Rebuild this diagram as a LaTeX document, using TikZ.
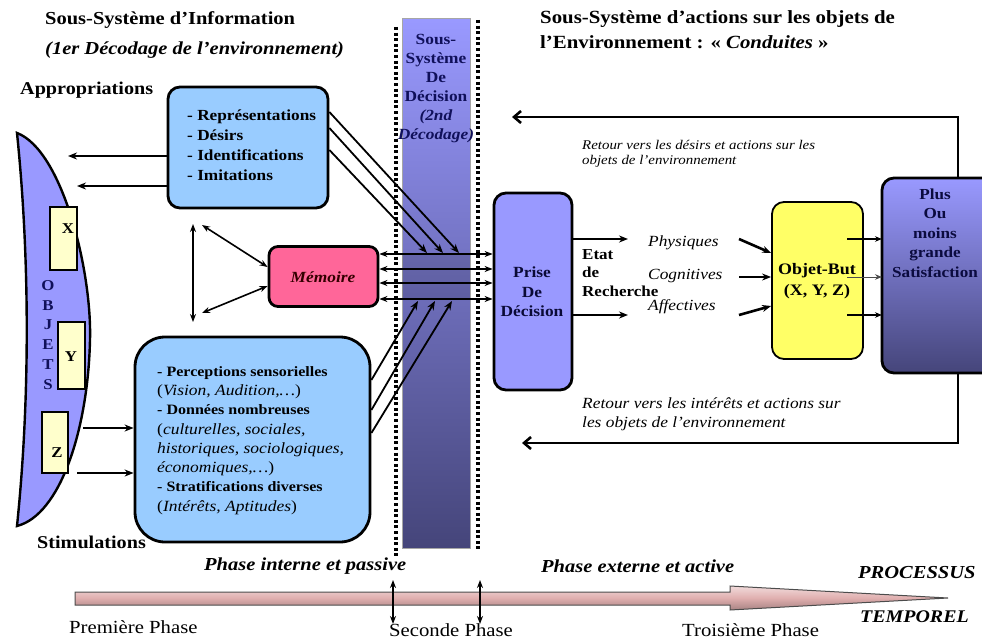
\documentclass[tikz,border=0pt]{standalone}
\usepackage{fontspec}
\setmainfont{Liberation Serif}[FakeStretch=1.12]
\usetikzlibrary{arrows.meta}
\definecolor{lblue}{HTML}{99CCFF}
\definecolor{lav}{HTML}{9999FF}
\definecolor{lavdark}{HTML}{45457A}
\definecolor{pinkm}{HTML}{FF6699}
\definecolor{yell}{HTML}{FFFF66}
\definecolor{pyell}{HTML}{FFFFCC}
\definecolor{navy}{HTML}{10105A}
\definecolor{arrpink}{HTML}{E0AFAF}
\tikzset{
  bx/.style={draw=black, line width=2.8pt, rounded corners=12pt},
  arr/.style={-{Stealth[length=9pt,width=7pt]}, line width=2pt},
  arrthin/.style={-{Stealth[length=7pt,width=5.5pt]}, line width=1.1pt},
  darr/.style={{Stealth[length=8pt,width=6pt]}-{Stealth[length=8pt,width=6pt]}, line width=1.6pt},
  fb/.style={-{Straight Barb[length=7pt,width=12pt]}, line width=2.6pt},
  dots/.style={line width=3.6pt, dash pattern=on 3pt off 2.6pt},
  ttl/.style={font=\bfseries\fontsize{18.3}{22}\selectfont, anchor=west, inner sep=0pt},
  lbl/.style={font=\bfseries\fontsize{15}{19}\selectfont, inner sep=0pt},
  itl/.style={font=\itshape\fontsize{15.5}{18}\selectfont, inner sep=0pt},
  btm/.style={font=\fontsize{18.5}{22}\selectfont, anchor=west, inner sep=0pt},
  phs/.style={font=\bfseries\itshape\fontsize{18.3}{22}\selectfont, anchor=west, inner sep=0pt},
}
\newcommand{\bb}[1]{{\upshape\bfseries\fontsize{14.3}{19.3}\selectfont #1}}
\begin{document}
\begin{tikzpicture}[x=1pt,y=-1pt]
\useasboundingbox (0,0) rectangle (982,642);

% titles
\node[ttl] (t1) at (45,20) {Sous-Système d'Information};
\node[ttl, font=\bfseries\itshape\fontsize{18.3}{22}\selectfont] (t2) at (45,50) {(\textit{1er Décodage de l'environnement})};
\node[ttl, font=\bfseries\fontsize{18.6}{22}\selectfont] (t3) at (540,19) {Sous-Système d'actions sur les objets de};
\node[ttl, font=\bfseries\fontsize{18.6}{22}\selectfont] (t4) at (540,42) {l'Environnement : « \textit{Conduites} »};
\node[ttl, font=\bfseries\fontsize{18}{20}\selectfont] (appr) at (20,90) {Appropriations};
\node[ttl, font=\bfseries\fontsize{18}{20}\selectfont] (stim) at (37,542) {Stimulations};

% lens OBJETS
\filldraw[fill=lav, draw=black, line width=2.4pt] (17,133) .. controls (62,150) and (92,270) .. (90,340) .. controls (88,430) and (60,515) .. (17,526) .. controls (30,400) and (30,260) .. (17,133) -- cycle;
\node[draw=black, line width=2.6pt, fill=pyell, minimum width=27pt, minimum height=63pt, inner sep=0pt] (xb) at (63.5,238.5) {};
\node[draw=black, line width=2.6pt, fill=pyell, minimum width=27pt, minimum height=67pt, inner sep=0pt] (yb) at (71.5,355.5) {};
\node[draw=black, line width=2.6pt, fill=pyell, minimum width=26pt, minimum height=61pt, inner sep=0pt] (zb) at (55,442.5) {};
\node[lbl, font=\bfseries\fontsize{15}{17}\selectfont] (xl) at (68,229) {X};
\node[lbl, font=\bfseries\fontsize{15}{17}\selectfont] (yl) at (71,357) {Y};
\node[lbl, font=\bfseries\fontsize{15}{17}\selectfont] (zl) at (57,453) {Z};
\node[lbl, text=navy, font=\bfseries\fontsize{15}{19.8}\selectfont, align=center] (obj) at (48,335) {O\\B\\J\\E\\T\\S};
\coordinate (la1) at (68,156);
\coordinate (la2) at (77,186);
\coordinate (lz1) at (83,428);
\coordinate (lz2) at (77,473);

% top-left box
\node[bx, fill=lblue, minimum width=160pt, minimum height=121pt] (rep) at (248,147.5) {};
\node[lbl, anchor=north west, align=left, font=\bfseries\fontsize{15.4}{19.7}\selectfont] (rept) at (187,110) {- Représentations\\- Désirs\\- Identifications\\- Imitations};

% bottom-left box
\node[bx, rounded corners=30pt, fill=lblue, minimum width=235pt, minimum height=205pt] (perc) at (252.5,439.5) {};
\node[anchor=north west, align=left, inner sep=0pt, font=\itshape\fontsize{15.6}{19.3}\selectfont] (perct) at (157,366) {\bb{- Perceptions sensorielles}\\\upshape(\itshape Vision, Audition,…\upshape)\\\bb{- Données nombreuses}\\\upshape(\itshape culturelles, sociales,\\historiques, sociologiques,\\économiques,…\upshape)\\\bb{- Stratifications diverses}\\\upshape(\itshape Intérêts, Aptitudes\upshape)};

% memoire
\node[bx, rounded corners=9pt, fill=pinkm, minimum width=109pt, minimum height=60pt] (mem) at (323.5,276.5) {};
\node[font=\bfseries\itshape\fontsize{15.5}{17}\selectfont, text=black!80!red] (memt) at (323,277) {Mémoire};

% arrows rep -> lens and lens -> perc
\draw[arr] (rep.west |- la1) -- (la1);
\draw[arr] (rep.west |- la2) -- (la2);
\draw[arr] (lz1) -- (perc.west |- lz1);
\draw[arr] (lz2) -- (perc.west |- lz2);

% memory triangle
\coordinate (v1) at (193,224);
\coordinate (v2) at (193,322);
\coordinate (d1) at (202,225);
\coordinate (d2) at (202,313);
\draw[darr] (v1) -- (v2);
\draw[darr] (d1) -- (mem.west |- 0,267);
\draw[darr] (d2) -- (mem.west |- 0,286);

% decision column
\shade[top color=lav, bottom color=lavdark, draw=gray!70, line width=1pt] (402,19) rectangle (470,548);
\fill[black, opacity=0.12] (402,254) rectangle (470,300);
\node[font=\bfseries\fontsize{15.5}{19}\selectfont, text=navy, align=center, inner sep=0pt] (colt) at (436,89) {Sous-\\Système\\De\\Décision\\\textit{(2nd}\\\textit{Décodage)}};
\draw[dots] (396,27) -- (396,556);
\draw[dots] (478,20) -- (478,550);

% prise de decision
\node[bx, fill=lav, minimum width=78pt, minimum height=197pt] (prise) at (533,291.5) {};
\node[lbl, text=navy!60!black, align=center, font=\bfseries\fontsize{15.5}{19.5}\selectfont] (priset) at (532,292) {Prise\\De\\Décision};

% diagonal arrows
\coordinate (e1) at (459,253);
\coordinate (e2) at (443,253);
\coordinate (e3) at (427,253);
\draw[arr, line width=1.8pt] (rep.east |- 0,112) -- (e1);
\draw[arr, line width=1.8pt] (rep.east |- 0,128) -- (e2);
\draw[arr, line width=1.8pt] (rep.east |- 0,150) -- (e3);
\coordinate (f1) at (418,301);
\coordinate (f2) at (435,301);
\coordinate (f3) at (452,301);
\draw[arr, line width=1.8pt] (perc.east |- 0,380) -- (f1);
\draw[arr, line width=1.8pt] (perc.east |- 0,410) -- (f2);
\draw[arr, line width=1.8pt] (perc.east |- 0,433) -- (f3);

% horizontal double arrows memoire <-> prise
\draw[darr, line width=1.1pt] (mem.east |- 0,254) -- (prise.west |- 0,254);
\draw[darr, line width=2.2pt] (mem.east |- 0,269) -- (prise.west |- 0,269);
\draw[darr, line width=2.2pt] (mem.east |- 0,283) -- (prise.west |- 0,283);
\draw[darr, line width=1.6pt] (mem.east |- 0,299) -- (prise.west |- 0,299);

% etat de recherche
\node[lbl, anchor=west, align=left, font=\bfseries\fontsize{15.2}{18.5}\selectfont] (etat) at (582,273) {Etat\\de\\Recherche};
\node[itl, anchor=west] (phy) at (648,243) {Physiques};
\node[itl, anchor=west] (cog) at (648,276) {Cognitives};
\node[itl, anchor=west] (aff) at (648,307) {Affectives};
\coordinate (p1) at (628,239);
\coordinate (p3) at (628,315);
\draw[arr] (prise.east |- p1) -- (p1);
\draw[arr] (prise.east |- p3) -- (p3);

% objet-but
\node[draw=black, line width=1.8pt, rounded corners=12pt, fill=yell, minimum width=91pt, minimum height=157pt] (obut) at (817.5,280.5) {};
\node[lbl, align=center, font=\bfseries\fontsize{16}{21}\selectfont] (obutt) at (817,281) {Objet-But\\(X, Y, Z)};
\coordinate (q1) at (739,239);
\coordinate (q2) at (739,277);
\coordinate (q3) at (739,315);
\draw[arr, line width=2.6pt] (q1) -- (obut.west |- 0,253);
\draw[arr] (q2) -- (obut.west |- q2);
\draw[arr, line width=2.6pt] (q3) -- (obut.west |- 0,306);

% satisfaction
\shade[top color=lav, bottom color=lavdark, draw=black, line width=2.8pt, rounded corners=12pt] (882,178) rectangle (996,373);
\node[lbl, align=center, text=navy!70!black, font=\bfseries\fontsize{15.3}{19.6}\selectfont] (satt) at (935,233) {Plus\\Ou\\moins\\grande\\Satisfaction};
\coordinate (sa) at (847,239);
\coordinate (sb) at (847,277);
\coordinate (sc) at (847,315);
\draw[arrthin, line width=1.6pt] (sa) -- (882,239);
\draw[arrthin, line width=0.9pt, draw=black!70] (sb) -- (882,277);
\draw[arrthin, line width=1.6pt] (sc) -- (882,315);

% feedback loops
\coordinate (st) at (958,178);
\coordinate (sbm) at (958,373);
\coordinate (fbt) at (512,117);
\coordinate (fbb) at (522,443);
\draw[fb] (st) |- (fbt);
\draw[fb] (sbm) |- (fbb);
\node[anchor=west, align=left, inner sep=0pt, font=\itshape\fontsize{13.3}{15}\selectfont] (rt1) at (582,154) {Retour vers les désirs et actions sur les\\objets de l'environnement};
\node[anchor=west, align=left, inner sep=0pt, font=\itshape\fontsize{15.5}{19}\selectfont] (rt2) at (582,414) {Retour vers les intérêts et actions sur\\les objets de l'environnement};

% timeline
\node[phs] (ph1) at (204,566) {Phase interne et passive};
\node[phs] (ph2) at (541,566) {Phase externe et active};
\shade[top color=arrpink!45!white, bottom color=arrpink!75!black, middle color=arrpink, draw=gray!60!black, line width=1pt]
  (75,592) -- (730,592) -- (730,586) -- (948,598) -- (730,610) -- (730,605) -- (75,605) -- cycle;
\coordinate (m1t) at (393,580);
\coordinate (m1b) at (393,624);
\coordinate (m2t) at (480,580);
\coordinate (m2b) at (480,624);
\draw[darr, line width=1.5pt] (m1t) -- (m1b);
\draw[darr, line width=1.5pt] (m2t) -- (m2b);
\node[phs] (pr) at (858,573) {PROCESSUS};
\node[phs, font=\bfseries\itshape\fontsize{17.8}{22}\selectfont] (tp) at (860,617) {TEMPOREL};
\node[btm] (ph1b) at (69,627) {Première Phase};
\node[btm] (ph2b) at (389,630) {Seconde Phase};
\node[btm] (ph3b) at (682,630) {Troisième Phase};
\end{tikzpicture}
\end{document}
